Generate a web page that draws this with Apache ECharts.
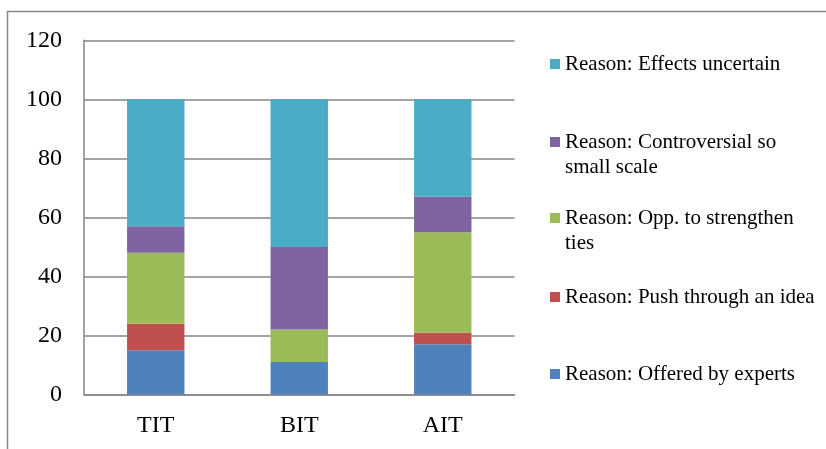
<!DOCTYPE html>
<html>
<head>
<meta charset="utf-8">
<script src="https://cdn.jsdelivr.net/npm/echarts@6/dist/echarts.min.js"></script>
<style>
  html, body { margin: 0; padding: 0; background: #fff; }
  #chart { width: 826px; height: 449px; }
</style>
</head>
<body>
<div id="chart"></div>
<script>
// Categories along the x axis
const categories = ['TIT', 'BIT', 'AIT'];

// Share of each reason per group (stacked bottom to top)
const offeredByExperts   = [15, 11, 17];
const pushThroughIdea    = [9, 0, 4];
const oppStrengthenTies  = [24, 11, 34];
const controversialSmall = [9, 28, 12];
const effectsUncertain   = [43, 50, 33];

// Y axis range
const yMin = 0, yMax = 120, yStep = 20;

const seriesDefs = [
  { name: 'Reason: Offered by experts', data: offeredByExperts, color: '#4F81BD' },
  { name: 'Reason: Push through an idea', data: pushThroughIdea, color: '#C0504D' },
  { name: 'Reason: Opp. to strengthen ties', data: oppStrengthenTies, color: '#9BBB59' },
  { name: 'Reason: Controversial so small scale', data: controversialSmall, color: '#8064A2' },
  { name: 'Reason: Effects uncertain', data: effectsUncertain, color: '#4BACC6' }
];

// Legend entries with their wrapped lines
const legendEntries = [
  { name: 'Reason: Effects uncertain', lines: ['Reason: Effects uncertain'], iconY: 64 },
  { name: 'Reason: Controversial so small scale', lines: ['Reason: Controversial so', 'small scale'], iconY: 142 },
  { name: 'Reason: Opp. to strengthen ties', lines: ['Reason: Opp. to strengthen', 'ties'], iconY: 218 },
  { name: 'Reason: Push through an idea', lines: ['Reason: Push through an idea'], iconY: 297 },
  { name: 'Reason: Offered by experts', lines: ['Reason: Offered by experts'], iconY: 374 }
];

const FONT = '"Liberation Serif", "Times New Roman", serif';
const LINE_H = 25;
const ICON = 10;

const legends = legendEntries.map(e => {
  // Text is centred on the icon; a blank leading line keeps the first
  // line of a wrapped entry level with its icon.
  const text = e.lines.length > 1 ? [' '].concat(e.lines).join('\n') : e.lines[0];
  const nLines = e.lines.length > 1 ? e.lines.length + 1 : 1;
  const boxH = nLines * LINE_H;
  return {
    data: [e.name],
    left: 550,
    top: e.iconY - boxH / 2,
    padding: 0,
    itemWidth: ICON,
    itemHeight: ICON,
    itemGap: 0,
    icon: 'rect',
    selectedMode: false,
    formatter: () => text,
    textStyle: {
      fontFamily: FONT,
      fontSize: 21,
      color: '#000',
      lineHeight: LINE_H
    }
  };
});

const chart = echarts.init(document.getElementById('chart'), null, { renderer: 'canvas' });

chart.setOption({
  animation: false,
  backgroundColor: '#fff',
  graphic: [{
    type: 'rect',
    shape: { x: 7.5, y: 11.5, width: 900, height: 600 },
    style: { fill: 'none', stroke: '#8a8a8a', lineWidth: 1.5 },
    silent: true,
    z: -1
  }],
  grid: { left: 84, right: 311.5, top: 40.3, bottom: 54.5 },
  legend: legends,
  xAxis: {
    type: 'category',
    data: categories,
    axisLine: { show: true, lineStyle: { color: '#868686', width: 1.5 } },
    axisTick: { show: false },
    axisLabel: { fontFamily: FONT, fontSize: 24, color: '#000', margin: 19 }
  },
  yAxis: {
    type: 'value',
    min: yMin,
    max: yMax,
    interval: yStep,
    axisLine: { show: true, lineStyle: { color: '#868686', width: 1.5 } },
    axisTick: { show: false },
    splitLine: { show: true, lineStyle: { color: '#868686', width: 1.5 } },
    axisLabel: { fontFamily: FONT, fontSize: 24, color: '#000', margin: 22 }
  },
  series: seriesDefs.map(s => ({
    name: s.name,
    type: 'bar',
    stack: 'total',
    barWidth: '40%',
    data: s.data,
    itemStyle: { color: s.color }
  }))
});
</script>
</body>
</html>
